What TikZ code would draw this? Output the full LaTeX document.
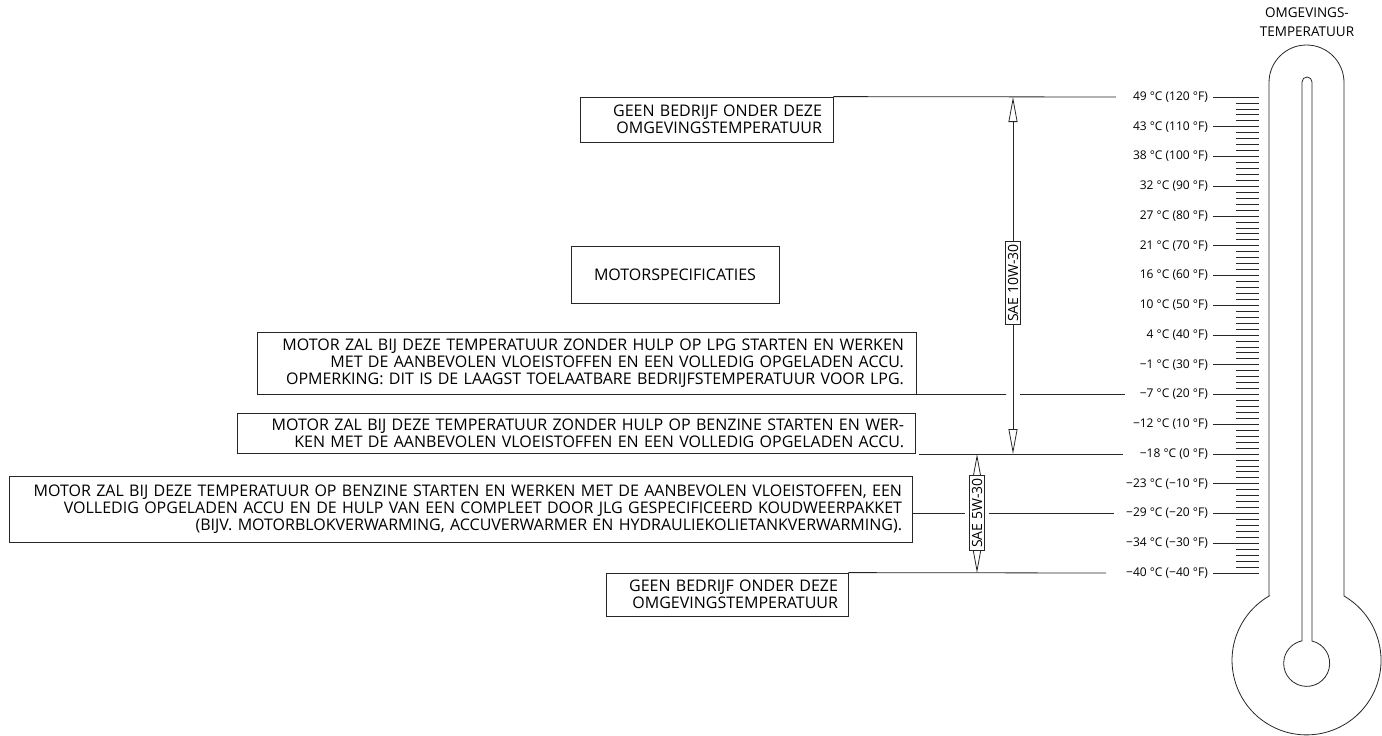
\documentclass[tikz,border=0pt]{standalone}
\usepackage{fontspec}
\setmainfont{Open Sans}
\usetikzlibrary{arrows.meta,calc}
\begin{document}
\begin{tikzpicture}[x=1pt,y=-1pt,
  ln/.style={line width=0.8pt, draw=black!85},
  txtbox/.style={draw=black!85, line width=0.8pt, align=right, inner ysep=0pt,
     font=\fontsize{16}{17}\selectfont, text=black},
  tlabel/.style={anchor=east, inner sep=0pt, font=\fontsize{12}{14}\selectfont},
  sae/.style={draw=black!85, line width=0.8pt, fill=white, rotate=90, inner xsep=3pt, inner ysep=2pt,
     font=\fontsize{14}{16}\selectfont},
  dimarrow/.style={ln, {Triangle[open,length=25pt,width=9pt,fill=white]}-{Triangle[open,length=25pt,width=9pt,fill=white]}}
]
\useasboundingbox (0,0) rectangle (1382,736);

% temperature labels
\foreach \lab [count=\i from 0] in {49 °C (120 °F),43 °C (110 °F),38 °C (100 °F),32 °C (90 °F),27 °C (80 °F),21 °C (70 °F),16 °C (60 °F),10 °C (50 °F),4 °C (40 °F),−1 °C (30 °F),−7 °C (20 °F),−12 °C (10 °F),−18 °C (0 °F),−23 °C (−10 °F),−29 °C (−20 °F),−34 °C (−30 °F),−40 °C (−40 °F)}{
  \node[tlabel] (t\i) at (1208,{97+\i*29.75}) {\lab};
  \coordinate (m\i) at (1259,{97+\i*29.75});
  \draw[ln] ($(t\i.east)+(5,0)$) -- (m\i);
}
% minor ticks
\foreach \k in {0,...,79}{
  \draw[ln] (1236,{97+\k*5.95}) -- (1259,{97+\k*5.95});
}

% thermometer
\draw[ln] (1269,596) -- (1269,82.5) arc[start angle=180,end angle=360,radius=37.5] -- (1344,596)
   arc[start angle=-59.8,end angle=239.8,radius=74.5] -- cycle;
\draw[ln] (1302,641) -- (1302,82) arc[start angle=180,end angle=360,radius=5] -- (1312,641)
   arc[start angle=-76.6,end angle=256.6,radius=23] -- cycle;
\node[align=center, font=\fontsize{13.5}{19}\selectfont, inner sep=0pt] (title) at (1307,22) {OMGEVINGS-\\TEMPERATUUR};

% text boxes
\node[txtbox, text width=231pt, inner xsep=11pt, minimum height=45pt] (topbox) at (706.5,119.5)
  {GEEN BEDRIJF ONDER DEZE\\OMGEVINGSTEMPERATUUR};
\node[txtbox, align=center, minimum width=208pt, minimum height=57pt] (spec) at (675,274.5)
  {MOTORSPECIFICATIES};
\node[txtbox, text width=635pt, inner xsep=12pt, minimum height=62pt] (lpg) at (586.5,363)
  {MOTOR ZAL BIJ DEZE TEMPERATUUR ZONDER HULP OP LPG STARTEN EN WERKEN\\MET DE AANBEVOLEN VLOEISTOFFEN EN EEN VOLLEDIG OPGELADEN ACCU.\\OPMERKING: DIT IS DE LAAGST TOELAATBARE BEDRIJFSTEMPERATUUR VOOR LPG.};
\node[txtbox, text width=656pt, inner xsep=11pt, minimum height=40pt] (benz) at (576,433)
  {MOTOR ZAL BIJ DEZE TEMPERATUUR ZONDER HULP OP BENZINE STARTEN EN WER-\\KEN MET DE AANBEVOLEN VLOEISTOFFEN EN EEN VOLLEDIG OPGELADEN ACCU.};
\node[txtbox, text width=883pt, inner xsep=10pt, minimum height=66pt] (jlg) at (460.5,509)
  {MOTOR ZAL BIJ DEZE TEMPERATUUR OP BENZINE STARTEN EN WERKEN MET DE AANBEVOLEN VLOEISTOFFEN, EEN\\VOLLEDIG OPGELADEN ACCU EN DE HULP VAN EEN COMPLEET DOOR JLG GESPECIFICEERD KOUDWEERPAKKET\\(BIJV. MOTORBLOKVERWARMING, ACCUVERWARMER EN HYDRAULIEKOLIETANKVERWARMING).};
\node[txtbox, text width=222pt, inner xsep=10pt, minimum height=43pt] (bot) at (727,594.5)
  {GEEN BEDRIJF ONDER DEZE\\OMGEVINGSTEMPERATUUR};

% reference points on the arrows
\coordinate (a1) at (1013,97);
\coordinate (a2) at (1013,454);
\coordinate (b1) at (977,454);
\coordinate (b2) at (977,573);

% horizontal level lines
\draw[ln] (topbox.north east) -- ($(t0.west)+(-17,0)$);
\draw[ln] (lpg.south east) -- ($(a1|-t10)+(-7,0)$);
\draw[ln] ($(a1|-t10)+(7,0)$) -- ($(t10.west)+(-15,0)$);
\draw[ln] ($(benz.east|-t12)+(4,0)$) -- ($(t12.west)+(-17,0)$);
\draw[ln] (bot.north east) -- ($(t16.west)+(-20,0)$);

% dimension arrows
\draw[dimarrow] (a1) -- (a2);
\draw[dimarrow] (b1) -- (b2);
\node[sae] (sae10) at (1013,283) {SAE 10W-30};
\node[sae] (sae5) at (977,513) {SAE 5W-30};

\draw[ln] (jlg.east|-t14) -- ($(sae5.north|-t14)+(-4,0)$);
\draw[ln] ($(sae5.south|-t14)+(4,0)$) -- ($(t14.west)+(-12,0)$);
\end{tikzpicture}
\end{document}
